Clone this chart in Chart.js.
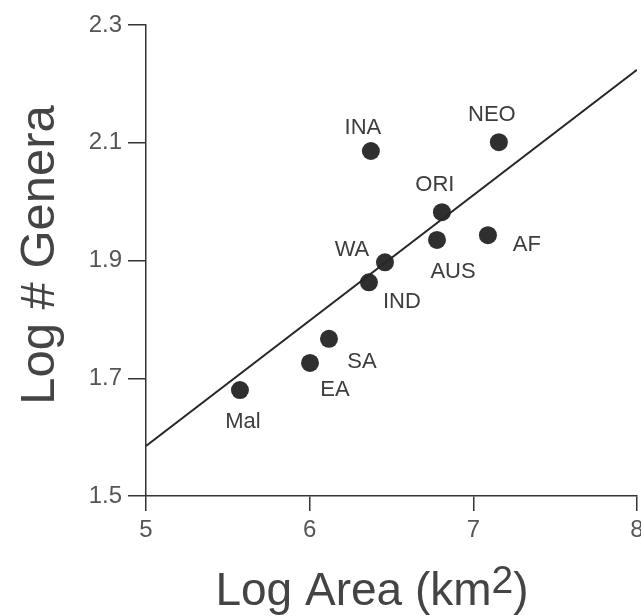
<!DOCTYPE html>
<html>
<head>
<meta charset="utf-8">
<script src="https://cdn.jsdelivr.net/npm/chart.js@4.4.1/dist/chart.umd.min.js"></script>
<style>
  html, body { margin: 0; padding: 0; background: #fff; }
  #wrap { width: 641px; height: 616px; }
</style>
</head>
<body>
<div id="wrap"><canvas id="myChart"></canvas></div>
<script>
// Data
const regions = ["Mal", "EA", "SA", "IND", "WA", "AUS", "ORI", "AF", "INA", "NEO"];
const logArea = [5.574, 6.002, 6.118, 6.362, 6.46, 6.778, 6.808, 7.089, 6.374, 7.156];
const logGenera = [1.68, 1.726, 1.767, 1.863, 1.897, 1.935, 1.982, 1.943, 2.086, 2.101];
const fitX = [5, 8];
const fitY = [1.585, 2.224];
const xTicks = [5, 6, 7, 8];
const yTicks = [1.5, 1.7, 1.9, 2.1, 2.3];

// where each label sits relative to its dot (px)
const labelOffsets = [
  [3, 32], [25, 27], [33, 23], [33, 20], [-33, -12],
  [16, 32], [-7, -27], [39, 10], [-8, -23], [-7, -27],
];

const FONT = "'Liberation Sans', Arial, Helvetica, sans-serif";
const ctx = document.getElementById("myChart");

// Region labels next to the dots
const pointLabels = {
  id: "pointLabels",
  afterDatasetsDraw(chart) {
    const c = chart.ctx;
    const xs = chart.scales.x;
    const ys = chart.scales.y;
    c.save();
    c.font = "22px " + FONT;
    c.fillStyle = "#3d3d3d";
    c.textAlign = "center";
    c.textBaseline = "middle";
    regions.forEach((name, i) => {
      const px = xs.getPixelForValue(logArea[i]) + labelOffsets[i][0];
      const py = ys.getPixelForValue(logGenera[i]) + labelOffsets[i][1];
      c.fillText(name, px, py);
    });
    c.restore();
  },
};

// Axis titles (x title needs a superscript)
const axisTitles = {
  id: "axisTitles",
  afterDraw(chart) {
    const c = chart.ctx;
    const bigFont = "46px " + FONT;
    const supFont = "39px " + FONT;
    c.save();
    c.fillStyle = "#444";

    c.save();
    c.font = "49px " + FONT;
    c.translate(54, 255);
    c.rotate(-Math.PI / 2);
    c.textAlign = "center";
    c.textBaseline = "alphabetic";
    c.fillText("Log # Genera", 0, 0);
    c.restore();

    const main = "Log Area (km";
    const sup = "2";
    const close = ")";
    c.textAlign = "left";
    c.textBaseline = "alphabetic";
    c.font = bigFont;
    const w1 = c.measureText(main).width;
    const w3 = c.measureText(close).width;
    c.font = supFont;
    const w2 = c.measureText(sup).width;
    let x = 372 - (w1 + w2 + w3) / 2;
    c.font = bigFont;
    c.fillText(main, x, 605);
    x += w1;
    c.font = supFont;
    c.fillText(sup, x, 593);
    x += w2;
    c.font = bigFont;
    c.fillText(close, x, 605);
    c.restore();
  },
};

const config = {
  data: {
    datasets: [
      {
        type: "line",
        data: fitX.map((x, i) => ({ x: x, y: fitY[i] })),
        borderColor: "#262626",
        borderWidth: 2,
        pointRadius: 0,
        fill: false,
      },
      {
        type: "scatter",
        data: regions.map((r, i) => ({ x: logArea[i], y: logGenera[i] })),
        backgroundColor: "#2f2f2f",
        borderWidth: 0,
        pointRadius: 9,
        pointHoverRadius: 9,
      },
    ],
  },
  options: {
    responsive: true,
    maintainAspectRatio: false,
    animation: false,
    layout: {
      autoPadding: false,
      padding: { top: 25, right: 4, left: 0, bottom: 0 },
    },
    plugins: {
      legend: { display: false },
      tooltip: { enabled: false },
    },
    scales: {
      x: {
        type: "linear",
        min: 5,
        max: 8,
        afterBuildTicks: (s) => {
          s.ticks = xTicks.map((v) => ({ value: v }));
        },
        ticks: {
          font: { size: 24, family: FONT },
          color: "#555",
          padding: 5,
          maxRotation: 0,
        },
        grid: {
          drawOnChartArea: false,
          tickLength: 15,
          color: "#333",
          lineWidth: 1.5,
        },
        border: { color: "#333", width: 1.5 },
        afterFit: (s) => {
          s.height = 120;
          s.paddingLeft = 0;
          s.paddingRight = 0;
        },
      },
      y: {
        type: "linear",
        min: 1.5,
        max: 2.3,
        afterBuildTicks: (s) => {
          s.ticks = yTicks.map((v) => ({ value: v }));
        },
        ticks: {
          font: { size: 24, family: FONT },
          color: "#555",
          padding: 6,
          callback: (v) => v.toFixed(1),
        },
        grid: {
          drawOnChartArea: false,
          tickLength: 18,
          color: "#333",
          lineWidth: 1.5,
        },
        border: { color: "#333", width: 1.5 },
        afterFit: (s) => {
          s.width = 146;
          s.paddingTop = 0;
          s.paddingBottom = 0;
        },
      },
    },
  },
  plugins: [pointLabels, axisTitles],
};

const myChart = new Chart(ctx, config);
</script>
</body>
</html>
